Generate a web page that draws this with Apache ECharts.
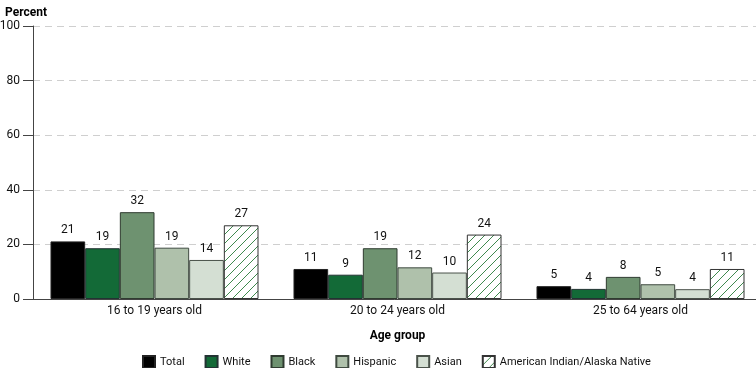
<!DOCTYPE html>
<html><head><meta charset="utf-8">
<script src="https://cdn.jsdelivr.net/npm/echarts@6/dist/echarts.min.js"></script>
<style>html,body{margin:0;padding:0;background:#fff}#c{width:756px;height:368px}</style>
</head><body><div id="c"></div>
<script>
const categories = ['16 to 19 years old', '20 to 24 years old', '25 to 64 years old'];
const seriesNames = ['Total', 'White', 'Black', 'Hispanic', 'Asian', 'American Indian/Alaska Native'];
const totalVals = [21.1, 11.0, 4.7];
const whiteVals = [18.6, 8.9, 3.7];
const blackVals = [31.8, 18.6, 8.1];
const hispanicVals = [18.8, 11.6, 5.4];
const asianVals = [14.3, 9.7, 3.6];
const aianVals = [27.0, 23.6, 11.0];
const yTicks = [0, 20, 40, 60, 80, 100];

const pc = document.createElement('canvas');
pc.width = 9; pc.height = 9;
const g = pc.getContext('2d');
g.fillStyle = '#fff'; g.fillRect(0, 0, 9, 9);
g.strokeStyle = '#3f8a4e'; g.lineWidth = 1;
g.beginPath();
g.moveTo(-1, 10); g.lineTo(10, -1);
g.moveTo(-1, 1); g.lineTo(1, -1);
g.moveTo(8, 10); g.lineTo(10, 8);
g.stroke();

const colors = ['#000000', '#136a37', '#6e9270', '#afc1ab', '#d4dfd3', {image: pc, repeat: 'repeat'}];
const borders = ['#222', '#233', '#2f3b30', '#3f4a40', '#4a524a', '#333'];
const dataSets = [totalVals, whiteVals, blackVals, hispanicVals, asianVals, aianVals];
const FONT = 'Roboto';

const chart = echarts.init(document.getElementById('c'), null, {renderer: 'canvas'});
chart.setOption({
  animation: false,
  textStyle: {fontFamily: FONT},
  title: {text: 'Percent', left: 0, top: 2, textStyle: {fontFamily: FONT, fontSize: 12, fontWeight: 'bold', color: '#000'}},
  grid: {left: 33, width: 729, top: 26, bottom: 69, containLabel: false, outerBoundsMode: 'none'},
  legend: {
    top: 355, left: 142, itemWidth: 12, itemHeight: 12, itemGap: 20, icon: 'rect', padding: 0,
    textStyle: {fontFamily: FONT, fontSize: 11, color: '#111'},
    data: seriesNames
  },
  xAxis: {
    type: 'category', data: categories,
    axisLine: {lineStyle: {color: '#444', width: 1}},
    axisTick: {show: false},
    axisLabel: {fontFamily: FONT, fontSize: 12, color: '#111', margin: 6},
    name: 'Age group', nameLocation: 'middle', nameGap: 31,
    nameTextStyle: {fontFamily: FONT, fontSize: 12, fontWeight: 'bold', color: '#000'}
  },
  yAxis: {
    type: 'value', min: yTicks[0], max: yTicks[yTicks.length - 1], interval: 20,
    axisLine: {show: true, lineStyle: {color: '#444', width: 1}},
    axisTick: {show: true, length: 10, lineStyle: {color: '#444'}},
    axisLabel: {fontFamily: FONT, fontSize: 12, color: '#111', margin: 13},
    splitLine: {lineStyle: {color: '#cfcfcf', type: [7, 5], width: 1}}
  },
  series: seriesNames.map((n, i) => ({
    name: n, type: 'bar', data: dataSets[i],
    barGap: 0, barCategoryGap: '14.4%',
    itemStyle: {color: colors[i], borderColor: borders[i], borderWidth: 1},
    label: {show: true, position: 'top', distance: 5, fontFamily: FONT, fontSize: 12, color: '#111',
      formatter: p => Math.round(p.value)}
  }))
});
</script></body></html>
